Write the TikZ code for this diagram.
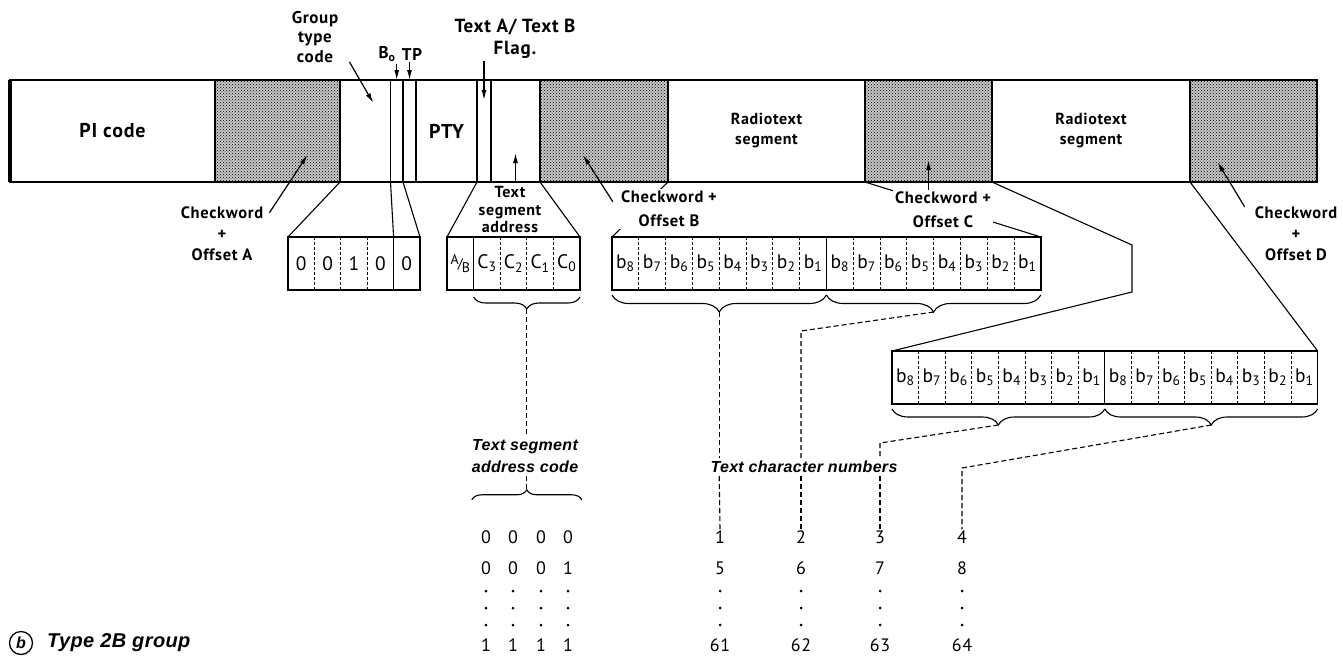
\documentclass[tikz,border=0pt]{standalone}
\usepackage{fontspec}
\setmainfont{PT Sans}[LetterSpace=4]
\newfontfamily\capfont{Liberation Sans}[LetterSpace=2]
\usetikzlibrary{positioning,arrows.meta,calc,patterns,decorations.pathreplacing}
\newcommand{\abflag}{{\fontsize{14}{15}\selectfont\raisebox{4pt}{A}\kern-1pt/\kern-1pt\raisebox{-4pt}{B}}}

\begin{document}
\begin{tikzpicture}[x=1pt,y=-1pt,
  seg/.style={draw,line width=1.3pt,minimum height=102pt,inner sep=0pt,outer sep=0pt,
              align=center,font=\fontsize{16}{20}\selectfont\bfseries},
  chk/.style={seg,preaction={fill=black!22},pattern=crosshatch dots},
  cell/.style={minimum height=53pt,inner sep=0pt,outer sep=0pt,font=\fontsize{19.5}{20}\selectfont},
  bx/.style={line width=1.6pt},
  sep/.style={line width=0.8pt,dash pattern=on 3pt off 2pt},
  proj/.style={line width=1.1pt},
  dsh/.style={line width=1.1pt,dash pattern=on 5pt off 3pt},
  brc/.style={line width=1.1pt,decorate},
  lbl/.style={align=center,inner sep=2pt,font=\fontsize{16.5}{21}\selectfont\bfseries},
  itl/.style={align=center,inner sep=3pt,font=\fontsize{16}{22}\capfont\bfseries\itshape},
  num/.style={inner sep=1pt,font=\fontsize{18}{20}\selectfont},
  arr/.style={-{Latex[length=10pt,width=5pt]},line width=1.2pt}]
\useasboundingbox (0,0) rectangle (1343,656);

\node[seg,minimum width=205pt,anchor=north west,font=\fontsize{20}{22}\selectfont\bfseries] (pi) at (10,80) {PI code};
\node[chk,minimum width=125pt,right=0pt of pi] (chkA) {};
\node[seg,minimum width=50.5pt,right=0pt of chkA] (gtc) {};
\node[seg,minimum width=12.5pt,right=0pt of gtc] (bzero) {};
\node[seg,minimum width=13pt,right=0pt of bzero] (tp) {};
\node[seg,minimum width=61pt,right=0pt of tp,font=\fontsize{20}{22}\selectfont\bfseries] (pty) {PTY};
\node[seg,minimum width=14pt,right=0pt of pty] (flag) {};
\node[seg,minimum width=49pt,right=0pt of flag] (tsa) {};
\node[chk,minimum width=128pt,right=0pt of tsa] (chkB) {};
\node[seg,minimum width=197pt,right=0pt of chkB] (rt1) {Radiotext\\segment};
\node[chk,minimum width=127pt,right=0pt of rt1] (chkC) {};
\node[seg,minimum width=198pt,right=0pt of chkC] (rt2) {Radiotext\\segment};
\node[chk,minimum width=127pt,right=0pt of rt2] (chkD) {};
\draw[line width=2.6pt] (pi.north west) rectangle (chkD.south east);
\draw[line width=4pt] (pi.north west) -- (pi.south west);
\foreach \c in {chkA,chkB,chkC,chkD}
  \draw[line width=2.6pt] (\c.north east) -- (\c.south east);

\foreach \v [count=\i] in {0,0,1,0,0}
  \node[cell,minimum width=26.4pt,anchor=north west] (g\i) at (288+26.4*\i-26.4,237) {\v};
\draw[bx] (g1.north west) rectangle (g5.south east);
\foreach \i in {1,2,3} \draw[sep] (g\i.north east) -- (g\i.south east);
\draw[proj] (g4.north east) -- (g4.south east);

\foreach \t [count=\i] in {{\abflag},{C\textsubscript{3}},{C\textsubscript{2}},{C\textsubscript{1}},{C\textsubscript{0}}}
  \node[cell,minimum width=26.6pt,anchor=north west] (c\i) at (447+26.6*\i-26.6,237) {\t};
\draw[bx] (c1.north west) rectangle (c5.south east);
\foreach \i in {2,3,4} \draw[sep] (c\i.north east) -- (c\i.south east);
\draw[proj] (c1.north east) -- (c1.south east);

\foreach \i in {1,...,16}{
  \pgfmathtruncatemacro\k{mod(16-\i,8)+1}
  \node[cell,minimum width=26.8pt,anchor=north west] (p\i) at (612+26.8*\i-26.8,237) {b\textsubscript{\k}};
  \node[cell,minimum width=26.6pt,anchor=north west] (q\i) at (892+26.6*\i-26.6,351) {b\textsubscript{\k}};
}
\draw[bx] (p1.north west) rectangle (p16.south east);
\draw[bx] (q1.north west) rectangle (q16.south east);
\foreach \i in {1,...,15}{
  \draw[sep] (p\i.north east) -- (p\i.south east);
  \draw[sep] (q\i.north east) -- (q\i.south east);
}
\draw[proj] (p8.north east) -- (p8.south east);
\draw[proj] (q8.north east) -- (q8.south east);

\draw[proj] (chkA.south east) -- (g1.north west);
\draw[proj] (bzero.south west) -- (g5.north west);
\draw[proj] (bzero.south east) -- (g5.north east);
\draw[proj] (flag.south west) -- (c1.north west);
\draw[proj] (tsa.south east) -- (c5.north east);
\draw[proj] (rt1.south west) -- (p1.north west);
\draw[proj] (rt1.south east) -- (p16.north east);
\coordinate (f1) at (1132,245);
\coordinate (f2) at (1132,292);
\draw[proj] (rt2.south west) -- (f1) -- (f2) -- (q1.north west);
\draw[proj] (rt2.south east) -- (q16.north east);

\node[lbl,font=\fontsize{17}{19.5}\selectfont\bfseries] (gtcl) at (315,37) {Group\\type\\code};
\node[lbl,font=\fontsize{17}{18}\selectfont\bfseries] (bl) at (387,54) {B\textsubscript{o}};
\node[lbl,font=\fontsize{17}{18}\selectfont\bfseries] (tpl) at (412,54) {TP};
\node[lbl,font=\fontsize{19}{22}\selectfont\bfseries] (flagl) at (515,39) {Text A/ Text B\\Flag.};
\node[lbl,font=\fontsize{16}{17.5}\selectfont\bfseries] (tsal) at (510,210) {Text\\segment\\address};
\node[lbl] (chkAl) at (222,234) {Checkword\\+\\Offset A};
\node[lbl,fill=white,font=\fontsize{16.5}{24}\selectfont\bfseries] (chkBl) at (669,209) {Checkword +\\Offset B};
\node[lbl,fill=white,font=\fontsize{16.5}{24}\selectfont\bfseries] (chkCl) at (943,210) {Checkword +\\Offset C};
\node[lbl] (chkDl) at (1296,234) {Checkword\\+\\Offset D};

\draw[arr] ([shift={(9,-3)}]gtcl.south east) -- ([shift={(8,-28)}]gtc.center);
\draw[arr] (bzero.north |- bl.south) -- (bzero.north);
\draw[arr] (tp.north |- tpl.south) -- (tp.north);
\draw[arr] (flag.north |- flagl.south) -- ([yshift=-20pt]flag.north);
\draw[arr] (tsa.south) -- ([yshift=29pt]tsa.south);
\draw[arr] ([shift={(4,8)}]chkAl.north east) -- ([shift={(30,24)}]chkA.center);
\draw[arr] ([shift={(-6,13)}]chkBl.north west) -- ([shift={(-21,24)}]chkB.center);
\draw[arr] (chkC.center |- chkCl.north) -- ([shift={(0,29)}]chkC.center);
\draw[arr] ([shift={(-8,2)}]chkDl.north west) -- ([shift={(-36,31)}]chkD.center);

\draw[brc,decoration={brace,mirror,amplitude=12pt}] ([yshift=-7pt]c2.south west) -- ([yshift=-7pt]c5.south east);
\draw[brc,decoration={brace,mirror,amplitude=17pt}] ([yshift=-5pt]p1.south west) -- ([yshift=-5pt]p8.south east);
\draw[brc,decoration={brace,mirror,amplitude=17pt}] ([yshift=-5pt]p9.south west) -- ([yshift=-5pt]p16.south east);
\draw[brc,decoration={brace,mirror,amplitude=16pt}] ([yshift=-5pt]q1.south west) -- ([yshift=-5pt]q8.south east);
\draw[brc,decoration={brace,mirror,amplitude=16pt}] ([yshift=-5pt]q9.south west) -- ([yshift=-5pt]q16.south east);
\coordinate (ta) at ($(c2.south west)!0.5!(c5.south east)+(0,19)$);
\coordinate (t1) at ($(p1.south west)!0.5!(p8.south east)+(0,22)$);
\coordinate (t2) at ($(p9.south west)!0.5!(p16.south east)+(0,22)$);
\coordinate (t3) at ($(q1.south west)!0.5!(q8.south east)+(0,21)$);
\coordinate (t4) at ($(q9.south west)!0.5!(q16.south east)+(0,21)$);

\node[itl] (adrl) at (525,456) {Text segment\\address code};
\coordinate (tb) at ($(ta |- adrl.south)+(0,14)$);
\draw[brc,decoration={brace,amplitude=10pt}] ($(tb)+(-55,10)$) -- ($(tb)+(55,10)$);
\draw[dsh] (ta) -- (ta |- adrl.north);
\draw[dsh] (ta |- adrl.south) -- (tb);

\node[itl] (tcn) at (804,467) {Text character numbers};
\coordinate (k2) at (801,331);
\coordinate (k3) at (880,443);
\coordinate (k4) at (962,468);

\foreach \x [count=\i] in {486,513,541,568}{
  \pgfmathtruncatemacro\v{\i==4}
  \node[num] (a\i) at (\x,537) {0};
  \node[num] (d\i) at (\x,568) {\v};
  \node[num] (e\i) at (\x,645) {1};
  \foreach \y in {591,608,625} \fill (\x,\y) circle (1.5pt);
}
\foreach \x/\p/\q/\s [count=\i] in {720/1/5/61,801/2/6/62,880/3/7/63,962/4/8/64}{
  \node[num] (n\i) at (\x,537) {\p};
  \node[num] (m\i) at (\x,568) {\q};
  \node[num] (l\i) at (\x,645) {\s};
  \foreach \y in {591,608,625} \fill (\x,\y) circle (1.5pt);
}
\draw[dsh] (t1) -- (t1 |- tcn.north);
\draw[dsh] (t1 |- tcn.south) -- (n1.north);
\draw[dsh] (t2) -- (k2) -- (k2 |- tcn.north);
\draw[dsh] (k2 |- tcn.south) -- (n2.north);
\draw[dsh] (t3) -- (k3) -- (k3 |- tcn.north);
\draw[dsh] (k3 |- tcn.south) -- (n3.north);
\draw[dsh] (t4) -- (k4) -- (n4.north);

\node[circle,draw,line width=1.3pt,inner sep=0pt,minimum size=23pt,font=\fontsize{16}{18}\capfont\bfseries\itshape] (bc) at (21,643) {b};
\node[itl,anchor=west,font=\fontsize{20}{22}\capfont\bfseries\itshape] (cap) at (44,643) {Type 2B group};
\end{tikzpicture}
\end{document}
